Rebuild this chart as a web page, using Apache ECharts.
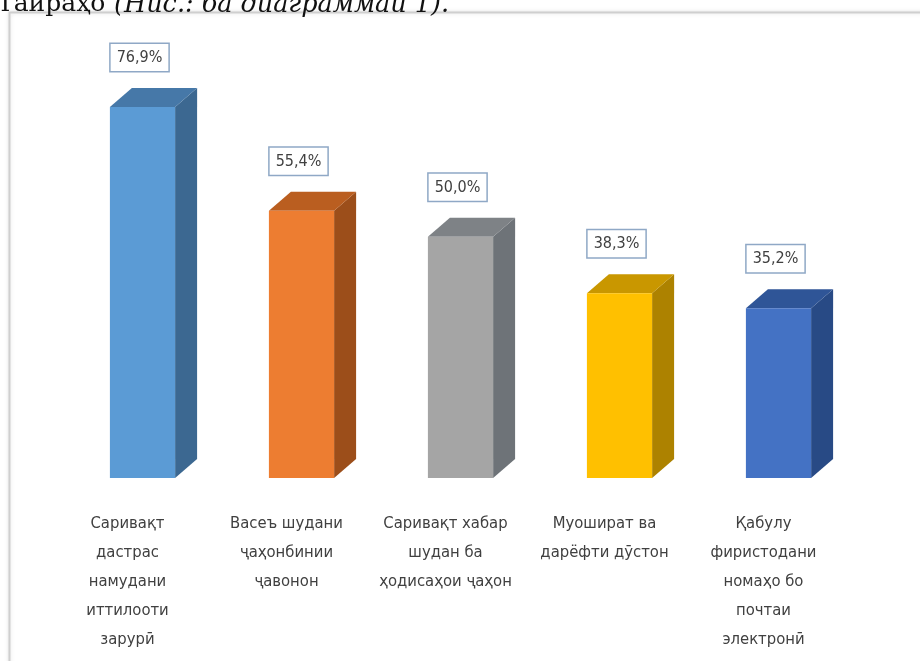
<!DOCTYPE html>
<html>
<head>
<meta charset="utf-8">
<script src="https://cdn.jsdelivr.net/npm/echarts@6/dist/echarts.min.js"></script>
<style>
  html, body { margin: 0; padding: 0; background: #fff; }
  #chart { width: 920px; height: 661px; }
</style>
</head>
<body>
<div id="chart"></div>
<script>
// categories and values (%)
const categories = [
    'Саривақт\nдастрас\nнамудани\nиттилооти\nзарурӣ',
    'Васеъ шудани\nҷаҳонбинии\nҷавонон',
    'Саривақт хабар\nшудан ба\nҳодисаҳои ҷаҳон',
    'Муошират ва\nдарёфти дӯстон',
    'Қабулу\nфиристодани\nномаҳо бо\nпочтаи\nэлектронӣ'
];
const values = [76.9, 55.4, 50.0, 38.3, 35.2];

// front / top / side colours for each bar
const frontColors = ['#5B9BD5', '#ED7D31', '#A5A5A5', '#FFC000', '#4472C4'];
const topColors   = ['#4678A8', '#BA5E20', '#7E8286', '#C99700', '#2F5597'];
const sideColors  = ['#3C6891', '#9C4E1A', '#6E7378', '#AD8200', '#284A85'];

const narrow = "'Liberation Sans Narrow', 'DejaVu Sans Condensed', sans-serif";
const depthX = 22, depthY = 19, shiftX = 15;

const chart = echarts.init(document.getElementById('chart'));

const option = {
    backgroundColor: '#fff',
    animation: false,
    graphic: [
        {
            type: 'rect', z: -10,
            shape: { x: 9.5, y: 12.5, width: 1000, height: 1000 },
            style: { fill: '#fff', stroke: '#cfcfcf', lineWidth: 2,
                     shadowColor: 'rgba(0,0,0,0.12)', shadowBlur: 4 }
        },
        {
            type: 'text', left: -3, top: -8,
            style: { text: 'Таираҳо', font: '25px "DejaVu Serif", serif', fill: '#111' }
        },
        {
            type: 'text', left: 114, top: -8,
            style: { text: '(Нис.: ба диаграммаи 1).', font: 'italic 25.5px "DejaVu Serif", serif', fill: '#111' }
        }
    ],
    grid: { left: 48, width: 795, top: 92, height: 386 },
    xAxis: {
        type: 'category',
        data: categories,
        axisLine: { show: false },
        axisTick: { show: false },
        axisLabel: {
            interval: 0,
            margin: 31,
            lineHeight: 29,
            fontSize: 16.5,
            fontFamily: narrow,
            color: '#404040'
        }
    },
    yAxis: {
        type: 'value', min: 0, max: 80, show: false,
        splitLine: { show: false }
    },
    series: [{
        type: 'custom',
        data: values.map((v, i) => [i, v]),
        renderItem: function (params, api) {
            const i = api.value(0);
            const top = api.coord([i, api.value(1)]);
            const base = api.coord([i, 0]);
            const band = api.size([1, 0])[0];
            const w = band * 0.41;
            const x0 = top[0] + shiftX - w / 2, x1 = x0 + w;
            const y0 = top[1], y1 = base[1];
            const label = api.value(1).toFixed(1).replace('.', ',') + '%';
            return {
                type: 'group',
                children: [
                    {
                        type: 'polygon',
                        shape: { points: [[x1, y0], [x1 + depthX, y0 - depthY], [x1 + depthX, y1 - depthY], [x1, y1]] },
                        style: { fill: sideColors[i] }
                    },
                    {
                        type: 'polygon',
                        shape: { points: [[x0, y0], [x0 + depthX, y0 - depthY], [x1 + depthX, y0 - depthY], [x1, y0]] },
                        style: { fill: topColors[i] }
                    },
                    {
                        type: 'rect',
                        shape: { x: x0, y: y0, width: w, height: y1 - y0 },
                        style: { fill: frontColors[i] }
                    },
                    {
                        type: 'text',
                        x: (x0 + x1) / 2 - 3,
                        y: y0 - depthY - 17,
                        style: {
                            text: label,
                            align: 'center',
                            verticalAlign: 'bottom',
                            font: '16px ' + narrow,
                            fill: '#404040',
                            backgroundColor: '#fff',
                            borderColor: '#8FA8C6',
                            borderWidth: 1.5,
                            padding: [6, 6, 5, 6]
                        }
                    }
                ]
            };
        }
    }]
};

chart.setOption(option);
</script>
</body>
</html>
